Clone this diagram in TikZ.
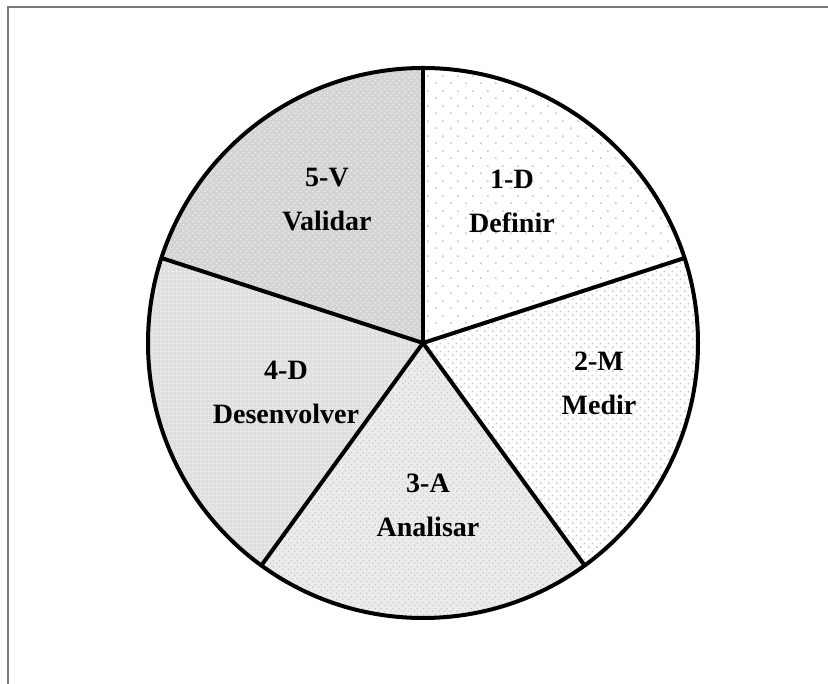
\documentclass[tikz,border=0pt]{standalone}
\usepackage{fontspec}
\setmainfont{Liberation Serif}
\usetikzlibrary{patterns.meta}

\tikzdeclarepattern{name=sparsedots, type=uncolored,
  bounding box={(0,0) and (15pt,15pt)}, tile size={(15pt,15pt)},
  code={\fill (0,0) rectangle (1.6pt,1.6pt); \fill (7.5pt,7.5pt) rectangle (9.1pt,9.1pt);}}
\tikzdeclarepattern{name=densedots, type=uncolored,
  bounding box={(0,0) and (7.5pt,7.5pt)}, tile size={(7.5pt,7.5pt)},
  code={\fill (0,0) rectangle (1.6pt,1.6pt); \fill (3.75pt,3.75pt) rectangle (5.35pt,5.35pt);}}
\tikzdeclarepattern{name=griddots, type=uncolored,
  bounding box={(0,0) and (4pt,4pt)}, tile size={(4pt,4pt)},
  code={\fill (0,0) rectangle (1.4pt,1.4pt);}}
\tikzdeclarepattern{name=crossdots, type=uncolored,
  bounding box={(0,0) and (6pt,6pt)}, tile size={(6pt,6pt)},
  code={\fill (0,0) rectangle (1.5pt,1.5pt); \fill (3pt,3pt) rectangle (4.5pt,4.5pt);}}

\begin{document}
\begin{tikzpicture}[x=1pt,y=1pt,
  slice/.style={draw=black, line width=4pt, line join=round},
  lbl/.style={font=\fontsize{28pt}{44pt}\selectfont\bfseries, align=center, text=black},
  frameline/.style={draw=gray!95!black, line width=1.4pt}]
\useasboundingbox (0,0) rectangle (828,684);
\coordinate (C) at (423,341);
\def\R{275}

% frame (top and left edges)
\draw[frameline] (8,0) -- (8,677) -- (828,677);

% slice fills
% 1-D
\fill[white] (C) -- ++(90:\R) arc[start angle=90, end angle=18, radius=\R] -- cycle;
\fill[pattern=sparsedots, pattern color=gray!45] (C) -- ++(90:\R) arc[start angle=90, end angle=18, radius=\R] -- cycle;
% 2-M
\fill[white] (C) -- ++(18:\R) arc[start angle=18, end angle=-54, radius=\R] -- cycle;
\fill[pattern=densedots, pattern color=gray!45] (C) -- ++(18:\R) arc[start angle=18, end angle=-54, radius=\R] -- cycle;
% 3-A
\fill[gray!16] (C) -- ++(-54:\R) arc[start angle=-54, end angle=-126, radius=\R] -- cycle;
\fill[pattern=crossdots, pattern color=gray!40] (C) -- ++(-54:\R) arc[start angle=-54, end angle=-126, radius=\R] -- cycle;
% 4-D
\fill[gray!24] (C) -- ++(-126:\R) arc[start angle=-126, end angle=-198, radius=\R] -- cycle;
\fill[pattern=griddots, pattern color=gray!8] (C) -- ++(-126:\R) arc[start angle=-126, end angle=-198, radius=\R] -- cycle;
% 5-V
\fill[gray!34] (C) -- ++(162:\R) arc[start angle=162, end angle=90, radius=\R] -- cycle;
\fill[pattern=crossdots, pattern color=gray!12] (C) -- ++(162:\R) arc[start angle=162, end angle=90, radius=\R] -- cycle;

% outlines
\draw[slice] (C) circle[radius=\R];
\foreach \a in {90,18,-54,-126,162} \draw[slice] (C) -- ++(\a:\R);

% labels
\node[lbl] (d1) at (512,483) {1-D\\Definir};
\node[lbl] (m2) at (599,301) {2-M\\Medir};
\node[lbl] (a3) at (428,179) {3-A\\Analisar};
\node[lbl] (d4) at (286,292) {4-D\\Desenvolver};
\node[lbl] (v5) at (327,484) {5-V\\Validar};
\end{tikzpicture}
\end{document}
